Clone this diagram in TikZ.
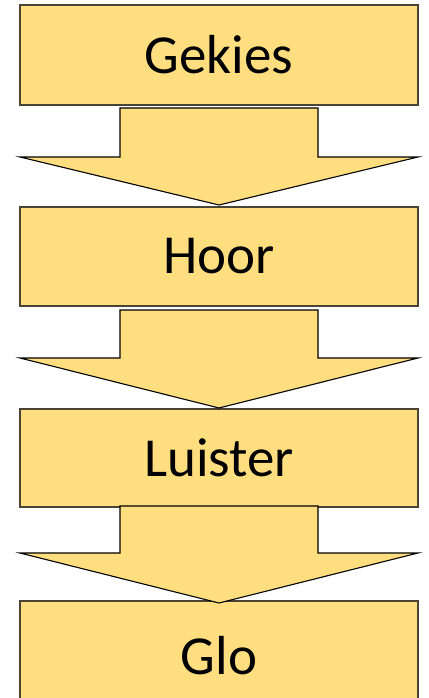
\documentclass[tikz,border=0pt]{standalone}
\usepackage{fontspec}
\setmainfont{Carlito}
\definecolor{boxfill}{HTML}{FFDE80}
\definecolor{boxline}{HTML}{4A4436}
\begin{document}
\begin{tikzpicture}[x=1pt,y=-1pt,
  stagebox/.style={draw=boxline,line width=1.4pt,fill=boxfill,minimum width=398pt,inner sep=0pt,
    font=\fontsize{55}{62}\selectfont,text=black},
  blockarrow/.style={draw=black,line width=1.1pt,fill=boxfill,line join=miter}]
\useasboundingbox (0,0) rectangle (428,698);
\path[clip] (0,0) rectangle (428,698);
\node[stagebox,minimum height=100pt] (b1) at (219,55) {Gekies};
\node[stagebox,minimum height=99pt] (b2) at (219,256.5) {Hoor};
\node[stagebox,minimum height=98pt] (b3) at (219,458) {Luister};
\node[stagebox,minimum height=110pt] (b4) at (219,656) {Glo};
\draw[blockarrow] (120,108) -- (318,108) -- (318,157) -- (418,157) -- (219,205) -- (20,157) -- (120,157) -- cycle;
\draw[blockarrow] (120,310) -- (318,310) -- (318,358) -- (418,358) -- (219,408) -- (20,358) -- (120,358) -- cycle;
\draw[blockarrow] (120,506) -- (318,506) -- (318,553) -- (418,553) -- (219,603) -- (20,553) -- (120,553) -- cycle;
\end{tikzpicture}
\end{document}
